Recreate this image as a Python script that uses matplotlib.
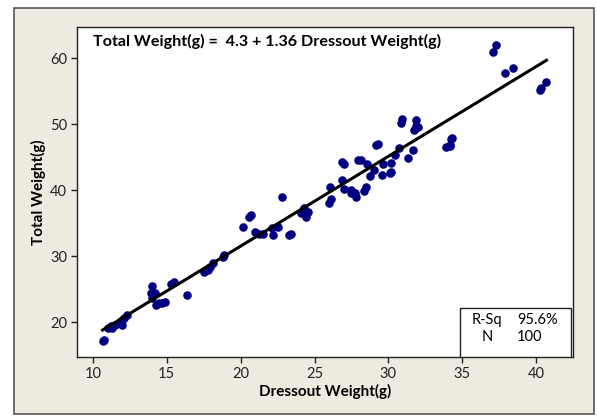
import matplotlib
matplotlib.use("Agg")
import matplotlib.pyplot as plt
from matplotlib.patches import Rectangle
import numpy as np

dressout = [10.65, 10.78, 11.03, 11.2, 11.3, 11.5, 11.8, 11.94, 12.0, 12.1, 12.33,
            14.0, 13.93, 14.06, 14.2, 14.0, 14.27, 14.45, 14.7, 14.9, 15.3, 15.5,
            16.4, 17.55, 17.76, 17.94, 18.1, 18.8, 18.9, 20.14, 20.58, 20.7,
            21.0, 21.25, 21.5, 22.15, 22.2, 22.54, 22.77, 23.3, 23.42,
            24.07, 24.2, 24.4, 24.53, 24.27, 25.96, 26.14, 26.08,
            26.86, 26.99, 26.86, 26.99, 27.46, 27.5, 27.77, 27.82, 27.97, 28.15,
            28.36, 28.5, 28.54, 28.75, 29.0, 29.14, 29.27, 29.58, 29.65,
            30.1, 30.2, 30.17, 30.48, 30.69, 30.87, 30.95, 31.31, 31.7, 31.72,
            31.9, 31.85, 31.98, 33.9, 34.15, 34.23, 34.3, 34.18,
            37.07, 37.28, 37.9, 38.45, 40.26, 40.3, 40.7]
total = [17.2, 17.3, 19.05, 19.4, 19.05, 19.55, 20.05, 19.55, 20.3, 20.55, 21.05,
         25.45, 24.35, 24.1, 24.35, 23.6, 22.6, 22.85, 22.85, 23.0, 25.75, 26.1,
         24.1, 27.6, 27.85, 28.35, 28.9, 29.9, 30.15, 34.4, 35.9, 36.2,
         33.6, 33.4, 33.4, 34.2, 33.2, 34.4, 38.97, 33.2, 33.4,
         36.45, 36.95, 35.95, 36.7, 37.2, 37.96, 38.57, 40.4,
         41.5, 44.0, 44.3, 40.2, 39.98, 39.6, 39.5, 39.0, 44.5, 44.5,
         39.9, 40.5, 43.9, 42.1, 43.1, 46.8, 47.0, 42.25, 44.0,
         42.6, 42.75, 44.1, 45.3, 46.3, 50.2, 50.7, 44.9, 46.0, 49.05,
         50.6, 49.7, 49.5, 46.5, 46.6, 47.8, 47.95, 46.8,
         60.9, 62.0, 57.7, 58.5, 55.1, 55.5, 56.4]
intercept = 4.3
slope = 1.36
r_sq = "95.6%"
n_obs = "100"

plt.rcParams['font.family'] = ['Lato', 'DejaVu Sans']

fig = plt.figure(figsize=(5.97, 4.17), dpi=100)
fig.patch.set_facecolor("white")
W, H = 597, 417
# outer beige panel with border
fig.patches.append(Rectangle((14 / W, 1 - 414 / H), (594 - 14) / W, (414 - 8) / H,
                             transform=fig.transFigure, facecolor="#EEEAE0",
                             edgecolor="#555555", linewidth=1.2, zorder=-10))

ax = fig.add_axes([77 / W, 1 - 357 / H, (573 - 77) / W, (357 - 27) / H])
ax.set_zorder(1)
ax.set_facecolor("white")
ax.scatter(dressout, total, s=38, color="#000080", zorder=3, linewidths=0)
xs = np.array([min(dressout), max(dressout)])
ax.plot(xs, intercept + slope * xs, color="black", linewidth=2.2, zorder=4)

ax.set_xlim(8.92, 42.5)
ax.set_ylim(14.7, 64.7)
ax.set_xticks([10, 15, 20, 25, 30, 35, 40])
ax.set_yticks([20, 30, 40, 50, 60])
ax.tick_params(labelsize=10.5, colors="#222222", length=4, width=1, pad=3)
for s in ax.spines.values():
    s.set_color("#222222")
    s.set_linewidth(1)
ax.set_xlabel("Dressout Weight(g)", fontsize=11, fontweight="bold", labelpad=2)
ax.set_ylabel("Total Weight(g)", fontsize=11, fontweight="bold", labelpad=3)

ax.text(0.032, 0.98, "Total Weight(g) =  4.3 + 1.36 Dressout Weight(g)",
        transform=ax.transAxes, fontsize=11.6, fontweight="bold", va="top", ha="left")

# stats box
ax.add_patch(Rectangle((460 / W, 1 - 357 / H), (571 - 460) / W, (357 - 308) / H,
                       transform=fig.transFigure, facecolor="white", edgecolor="#222222",
                       linewidth=1, zorder=5))
ax.text(487 / W, 1 - 320 / H, "R-Sq", fontsize=10.5, ha="center", va="center", zorder=6,
        transform=fig.transFigure)
ax.text(487 / W, 1 - 337 / H, "N", fontsize=10.5, ha="center", va="center", zorder=6,
        transform=fig.transFigure)
ax.text(517 / W, 1 - 320 / H, r_sq, fontsize=10.5, ha="left", va="center", zorder=6,
        transform=fig.transFigure)
ax.text(517 / W, 1 - 337 / H, n_obs, fontsize=10.5, ha="left", va="center", zorder=6,
        transform=fig.transFigure)

fig.savefig("out.png", dpi=100)
